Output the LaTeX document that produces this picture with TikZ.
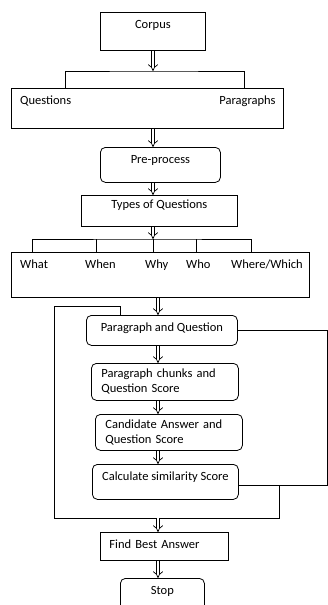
\documentclass[tikz,border=0pt]{standalone}
\usepackage{fontspec}
\setmainfont{Carlito}
\usetikzlibrary{arrows.meta, positioning}

\begin{document}
\begin{tikzpicture}[
    x=1pt, y=-1pt,
    every node/.style={font=\fontsize{12.5}{15}\selectfont},
    box/.style={draw, line width=0.8pt, anchor=north west, inner xsep=9pt, inner ysep=4pt},
    rbox/.style={box, rounded corners=5pt},
    textup/.style={text height=12pt, text depth=#1},
    lbl/.style={anchor=base west, inner sep=0pt},
    arrow/.style={double, double distance=2.8pt, line width=0.7pt, -{Implies}},
    line/.style={line width=0.8pt}
  ]
  \useasboundingbox (0,0) rectangle (328,605);

  % Nodes
  \node[box, textup=18pt, minimum width=105pt] (corpus) at (100,12) {Corpus};
  \node[box, minimum width=272pt, minimum height=40pt] (qp) at (11,88) {};
  \node[lbl] (questions) at ([xshift=9pt, yshift=-16pt]qp.north west) {Questions};
  \node[lbl, anchor=base east] (paragraphs) at ([xshift=-8pt, yshift=-16pt]qp.north east) {Paragraphs};
  \node[rbox, textup=15pt, minimum width=120pt] (preproc) at (100,147) {Pre-process};
  \node[box, text height=9pt, text depth=14pt, minimum width=156pt] (types) at (81,195) {Types of Questions};
  \node[box, minimum width=298pt, minimum height=45pt] (wh) at (11,252) {};
  \node[lbl] (what) at ([xshift=9pt, yshift=-16pt]wh.north west) {What};
  \node[lbl] (when) at ([xshift=74pt, yshift=-16pt]wh.north west) {When};
  \node[lbl] (why) at ([xshift=134pt, yshift=-16pt]wh.north west) {Why};
  \node[lbl] (who) at ([xshift=175pt, yshift=-16pt]wh.north west) {Who};
  \node[lbl] (where) at ([xshift=220pt, yshift=-16pt]wh.north west) {Where/Which};

  % Loop boxes
  \node[rbox, textup=10pt, minimum width=151pt] (pq) at (86,315) {Paragraph and Question};
  \node[rbox, text width=127pt, inner xsep=10pt, align=left, minimum height=37pt] (chunks) at (91,363) {Paragraph chunks and\\Question Score};
  \node[rbox, text width=127pt, inner xsep=10pt, align=left, minimum height=36pt] (cand) at (95,414) {Candidate Answer and\\Question Score};
  \node[rbox, textup=15pt, minimum width=146pt] (calc) at (92,464) {Calculate similarity Score};
  \node[box, textup=8pt, text width=110pt, align=left] (best) at (100,532) {Find Best Answer};
  \node[rbox, textup=20pt, minimum width=84pt] (stop) at (120,578) {Stop};

  % Joints
  \coordinate (split1) at (153,71);
  \coordinate (split2) at (153,239);
  \coordinate (spine) at (158,0);
  \coordinate (loopL) at (54,306);
  \coordinate (loopB) at (279,518);
  \coordinate (loopR) at (327,485);

  % Connections
  \draw[arrow] (corpus.south -| split1) -- (split1);
  \draw[line] ([xshift=54pt]qp.north west) |- (split1) -| ([xshift=-39pt]qp.north east);
  \draw[arrow] (qp.south -| split1) -- (preproc.north -| split1);
  \draw[arrow] (preproc.south -| split1) -- (types.north -| split1);
  \draw[arrow] (types.south -| split2) -- (split2);
  \draw[line] ([xshift=21pt]wh.north west) |- (split2) -| ([xshift=-58pt]wh.north east);
  \draw[line] (split2) -- (split2 |- wh.north);
  \draw[line] ([xshift=85pt]wh.north west) -- ++(0,-13);
  \draw[line] ([xshift=185pt]wh.north west) -- ++(0,-13);
  \draw[arrow] (wh.south -| spine) -- (pq.north -| spine);
  \draw[arrow] (pq.south -| spine) -- (chunks.north -| spine);
  \draw[arrow] (chunks.south -| spine) -- (cand.north -| spine);
  \draw[arrow] (cand.south -| spine) -- (calc.north -| spine);

  % Loop lines
  \draw[line] ([xshift=34pt]pq.north west) |- (loopL) |- (loopB) -- (loopB |- loopR);
  \draw[line] (pq.east) -| (loopR) -- (calc.east |- loopR);

  \draw[arrow] (loopB -| spine) -- (best.north -| spine);
  \draw[arrow] (best.south -| spine) -- (stop.north -| spine);

\end{tikzpicture}
\end{document}
